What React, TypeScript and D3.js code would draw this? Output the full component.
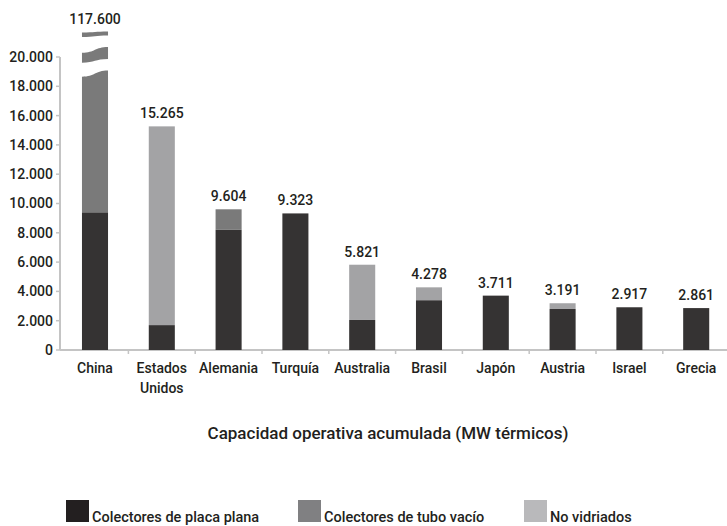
import React from "react";
import * as d3 from "d3";

const categories = ["China", "Estados Unidos", "Alemania", "Turquía", "Australia", "Brasil", "Japón", "Austria", "Israel", "Grecia"];
const categoryLines = [["China"], ["Estados", "Unidos"], ["Alemania"], ["Turquía"], ["Australia"], ["Brasil"], ["Japón"], ["Austria"], ["Israel"], ["Grecia"]];
const placaPlana = [9400, 1700, 8200, 9323, 2050, 3400, 3711, 2800, 2917, 2861];
const tuboVacio = [108200, 0, 1404, 0, 0, 0, 0, 0, 0, 0];
const noVidriados = [0, 13565, 0, 0, 3771, 878, 0, 391, 0, 0];
const totalLabels = ["117.600", "15.265", "9.604", "9.323", "5.821", "4.278", "3.711", "3.191", "2.917", "2.861"];
const yTicks = [0, 2000, 4000, 6000, 8000, 10000, 12000, 14000, 16000, 18000, 20000];
const seriesNames = ["Colectores de placa plana", "Colectores de tubo vacío", "No vidriados"];
const seriesColors = ["#353333", "#7a7a7a", "#a3a3a5"];
const legendColors = ["#231f20", "#808082", "#b9b9bb"];
const axisMax = 20000;
// broken-bar pieces for the value above the axis maximum: [bottomLeft, bottomRight, topLeft, topRight]
const breakPieces = [
  [null, null, 18650, 19070],
  [19610, 19860, 20290, 20680],
  [21360, 21470, 21670, 21740],
];
const xTitle = "Capacidad operativa acumulada (MW térmicos)";

const W = 727, H = 526;
const FONT = "Roboto, 'DejaVu Sans', sans-serif";
const TXT = "#231f20";

export default function App() {
  const x = d3.scaleBand<string>().domain(categories).range([61.6, 729.6]).paddingInner(0.61).paddingOuter(0.305);
  const y = d3.scaleLinear().domain([0, axisMax]).range([350, 57]);
  const bw = x.bandwidth();
  const fmt = (v: number) => d3.format(",")(v).replace(/,/g, ".");

  const wave = (x0: number, x1: number, yl: number, yr: number) => {
    const m = (x0 + x1) / 2;
    return `C ${m},${yl} ${m},${yr} ${x1},${yr}`;
  };
  const waveRev = (x0: number, x1: number, yl: number, yr: number) => {
    const m = (x0 + x1) / 2;
    return `C ${m},${yr} ${m},${yl} ${x0},${yl}`;
  };

  const bars: any[] = [];
  categories.forEach((c, i) => {
    const x0 = x(c)!;
    const x1 = x0 + bw;
    const vals = [placaPlana[i], tuboVacio[i], noVidriados[i]];
    const total = vals[0] + vals[1] + vals[2];
    let acc = 0;
    vals.forEach((v, s) => {
      if (v <= 0) return;
      const lo = acc;
      const hi = acc + v;
      acc = hi;
      if (hi <= axisMax) {
        bars.push(<rect key={`${i}-${s}`} x={x0} y={y(hi)} width={bw} height={y(lo) - y(hi)} fill={seriesColors[s]} />);
      } else {
        breakPieces.forEach((p, k) => {
          const bl = p[0] == null ? y(lo) : y(p[0] as number);
          const br = p[1] == null ? y(lo) : y(p[1] as number);
          const tl = y(p[2] as number);
          const tr = y(p[3] as number);
          const d = `M ${x0},${bl} L ${x0},${tl} ${wave(x0, x1, tl, tr)} L ${x1},${br} ` +
            (p[0] == null ? `L ${x0},${bl} Z` : `${waveRev(x0, x1, bl, br)} Z`);
          bars.push(<path key={`${i}-${s}-${k}`} d={d} fill={seriesColors[s]} />);
        });
      }
    });
    const topY = total > axisMax ? y(breakPieces[breakPieces.length - 1][3] as number) : y(total);
    bars.push(
      <text key={`lab-${i}`} x={x0 + bw / 2} y={topY - 8} textAnchor="middle" fontSize={14} fontWeight={500} fill={TXT}>
        {totalLabels[i]}
      </text>
    );
  });

  const legendX = [66, 298, 524];

  return (
    <svg width={W} height={H} style={{ position: "absolute", left: 0, top: 0, background: "#fff" }} fontFamily={FONT}>
      {/* y axis */}
      <line x1={60} x2={60} y1={y(0)} y2={y(axisMax)} stroke="#c4c4c4" strokeWidth={2} />
      {yTicks.map((t) => (
        <g key={t}>
          <line x1={56} x2={60} y1={y(t)} y2={y(t)} stroke="#c4c4c4" strokeWidth={1.5} />
          <text x={53} y={y(t)} dy="0.35em" textAnchor="end" fontSize={14} fontWeight={500} fill={TXT}>
            {fmt(t)}
          </text>
        </g>
      ))}
      {/* x axis */}
      <line x1={60} x2={727} y1={y(0)} y2={y(0)} stroke="#c4c4c4" strokeWidth={2} />
      {categories.slice(1).map((c) => (
        <line key={c} x1={x(c)! - x.step() * 0.305} x2={x(c)! - x.step() * 0.305} y1={y(0)} y2={y(0) + 4} stroke="#c4c4c4" strokeWidth={1.5} />
      ))}
      {bars}
      {categories.map((c, i) =>
        categoryLines[i].map((ln, j) => (
          <text key={`${c}-${j}`} x={x(c)! + bw / 2} y={373 + j * 20} textAnchor="middle" fontSize={14} fontWeight={500} fill={TXT}>
            {ln}
          </text>
        ))
      )}
      <text x={388} y={439} textAnchor="middle" fontSize={17} fontWeight={500} fill={TXT}>
        {xTitle}
      </text>
      {seriesNames.map((n, i) => (
        <g key={n}>
          <rect x={legendX[i]} y={500} width={23} height={22} fill={legendColors[i]} />
          <text x={legendX[i] + 26} y={522} fontSize={14.5} fontWeight={500} fill={TXT}>
            {n}
          </text>
        </g>
      ))}
    </svg>
  );
}
